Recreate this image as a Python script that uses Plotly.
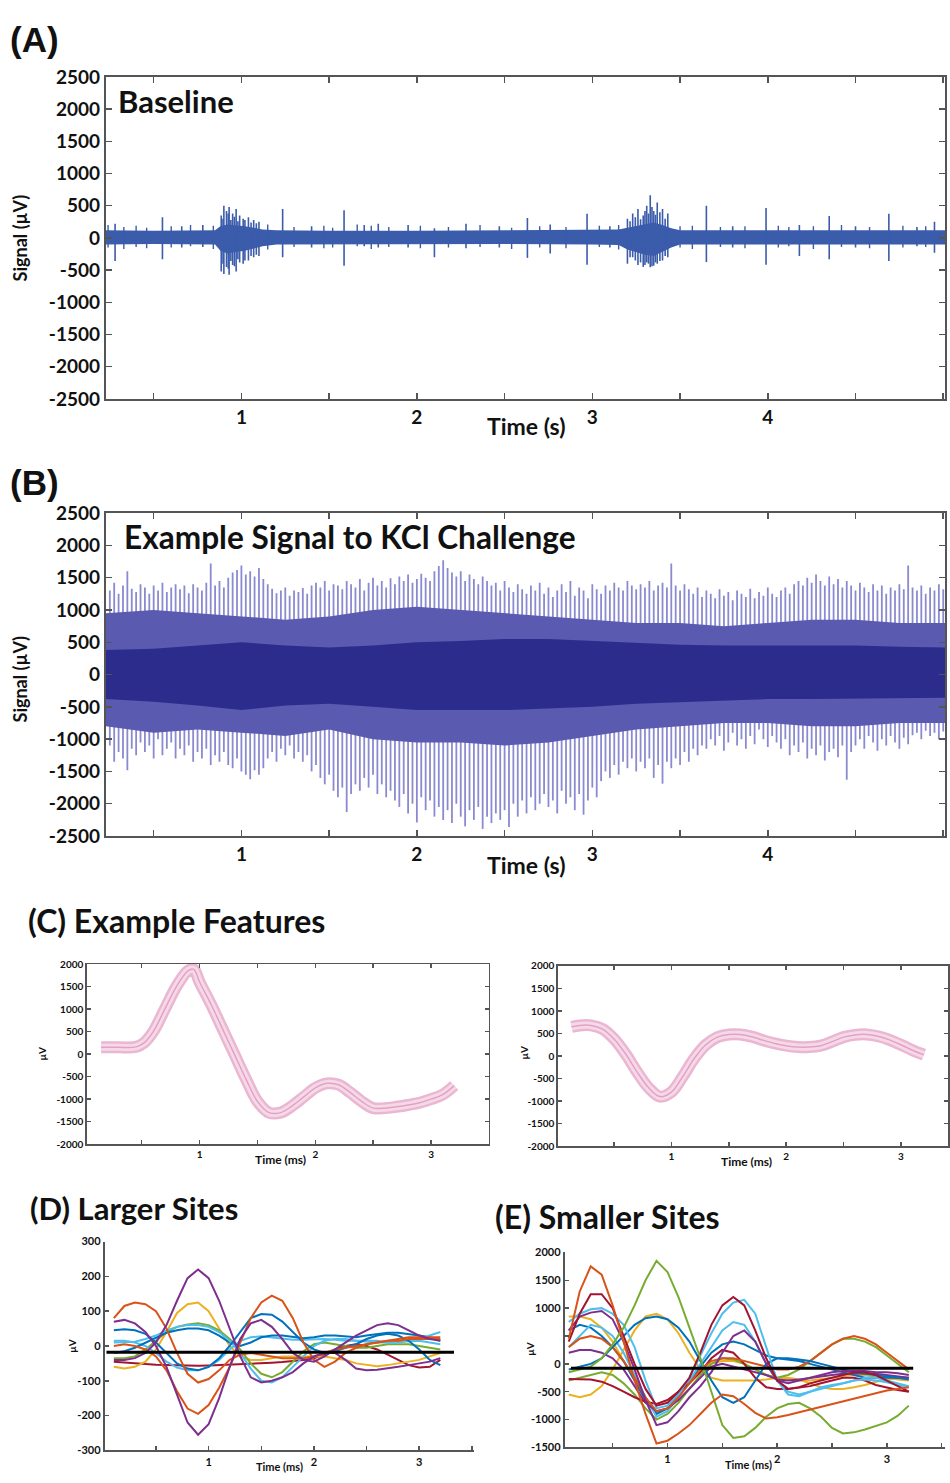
import numpy as np
import plotly.graph_objects as go

W, H = 950, 1483

# ---------------- Panel A : baseline recording (µV) ----------------
a_env_t  = [0.227, 0.5, 0.85, 0.88, 0.92, 0.97, 1.02, 1.07, 1.12, 1.2, 1.5, 2.0, 2.5, 3.0, 3.15, 3.2, 3.25, 3.3, 3.35, 3.4, 3.45, 3.5, 4.0, 4.5, 5.01]
a_env_hi = [120, 110, 120, 180, 210, 200, 180, 160, 130, 120, 110, 110, 115, 120, 130, 160, 190, 220, 240, 200, 150, 120, 115, 120, 120]
a_env_lo = [-100, -95, -100, -200, -240, -220, -200, -170, -130, -100, -95, -95, -95, -100, -110, -180, -220, -260, -280, -220, -150, -100, -95, -100, -100]
a_spk_t  = [0.28, 0.55, 0.66, 0.78, 0.885, 0.90, 0.915, 0.93, 0.95, 0.97, 0.99, 1.01, 1.04, 1.07, 1.10, 1.235, 1.40, 1.585, 1.70, 1.78,
            1.95, 2.10, 2.28, 2.47, 2.63, 2.76, 2.97, 3.10, 3.20, 3.23, 3.26, 3.29, 3.31, 3.33, 3.35, 3.37, 3.40, 3.43,
            3.65, 3.80, 3.99, 4.18, 4.35, 4.50, 4.69, 4.85, 4.95,
            0.895, 0.925, 0.94, 0.96, 0.98, 1.02, 1.055, 1.085, 3.215, 3.245, 3.275, 3.30, 3.32, 3.34, 3.36, 3.385, 3.415]
a_spk_hi = [220, 320, 180, 200, 350, 500, 420, 480, 380, 450, 350, 300, 320, 280, 250, 450, 180, 430, 200, 220,
            200, 150, 220, 180, 310, 210, 375, 180, 300, 380, 450, 350, 500, 665, 420, 550, 450, 380,
            500, 180, 465, 200, 340, 180, 375, 170, 250,
            300, 380, 280, 330, 260, 280, 240, 230, 260, 320, 290, 420, 380, 480, 360, 400, 300]
a_spk_lo = [-360, -330, -150, -140, -520, -560, -450, -570, -420, -520, -380, -400, -350, -300, -280, -300, -150, -430, -130, -150,
            -150, -300, -160, -150, -310, -240, -415, -150, -400, -300, -420, -450, -380, -455, -430, -400, -350, -300,
            -375, -150, -415, -280, -330, -150, -360, -130, -230,
            -400, -480, -360, -440, -330, -350, -280, -260, -300, -350, -380, -420, -400, -440, -380, -360, -280]
# small spikes riding on the noise floor
a_small_t  = [0.24, 0.33, 0.40, 0.46, 0.60, 0.71, 0.84, 1.15, 1.30, 1.47, 1.52, 1.66, 1.74, 1.84, 2.02, 2.18, 2.36, 2.54,
              2.70, 2.85, 3.04, 3.15, 3.50, 3.57, 3.73, 3.87, 4.06, 4.12, 4.26, 4.42, 4.58, 4.77, 4.90]
a_small_hi = [200, 170, 190, 160, 180, 200, 190, 210, 170, 190, 160, 210, 190, 170, 190, 170, 200, 160,
              180, 170, 190, 200, 180, 190, 170, 180, 190, 170, 180, 200, 170, 190, 180]
a_small_lo = [-150, -170, -140, -160, -150, -130, -170, -180, -140, -160, -150, -130, -170, -140, -160, -150, -140, -170,
              -150, -160, -140, -180, -150, -170, -140, -160, -150, -130, -170, -140, -160, -150, -140]

# ---------------- Panel B : KCl challenge (µV) ----------------
b_start, b_step = 0.25, 0.025
b_top = [1300, 1420, 1250, 1380, 1600, 1330, 1280, 1400,
         1350, 1250, 1380, 1300, 1420, 1280, 1350, 1400,
         1320, 1380, 1260, 1400, 1350, 1300, 1420, 1720,
         1380, 1450, 1350, 1500, 1580, 1620, 1690, 1550,
         1600, 1520, 1650, 1480, 1400, 1330, 1260, 1300,
         1350, 1220, 1300, 1280, 1340, 1250, 1380, 1420,
         1350, 1450, 1300, 1400, 1380, 1320, 1450, 1400,
         1350, 1480, 1300, 1420, 1500, 1380, 1450, 1350,
         1490, 1400, 1520, 1450, 1550, 1420, 1480, 1560,
         1500, 1450, 1600, 1680, 1770, 1650, 1580, 1520,
         1600, 1450, 1550, 1480, 1400, 1520, 1450, 1380,
         1420, 1300, 1450, 1350, 1280, 1400, 1320, 1250,
         1380, 1300, 1420, 1250, 1350, 1200, 1300, 1400,
         1280, 1450, 1220, 1350, 1300, 1180, 1400, 1320,
         1250, 1380, 1300, 1420, 1350, 1300, 1450, 1380,
         1320, 1400, 1350, 1450, 1300, 1380, 1420, 1350,
         1720, 1380, 1300, 1400, 1320, 1250, 1350, 1200,
         1300, 1250, 1180, 1320, 1220, 1280, 1150, 1300,
         1250, 1200, 1330, 1180, 1280, 1220, 1350, 1250,
         1200, 1300, 1350, 1250, 1400, 1450, 1380, 1500,
         1420, 1550, 1450, 1380, 1520, 1400, 1480, 1350,
         1450, 1380, 1300, 1420, 1350, 1280, 1400, 1300,
         1380, 1250, 1350, 1300, 1400, 1320, 1690, 1350,
         1300, 1380, 1250, 1350, 1300, 1400, 1320]
b_bot = [-1100, -1350, -1200, -1300, -1480, -1150, -1250, -1050,
         -1200, -1100, -1300, -1000, -1250, -1150, -1050, -1300,
         -1150, -1250, -1100, -1350, -1200, -1300, -1150, -1400,
         -1250, -1350, -1200, -1400, -1450, -1300, -1500, -1550,
         -1620, -1480, -1550, -1450, -1300, -1200, -1350, -1150,
         -1250, -1100, -1300, -1200, -1350, -1250, -1500, -1400,
         -1600, -1700, -1550, -1800, -1900, -1750, -2130, -1850,
         -1700, -1800, -1600, -1750, -1550, -1850, -1700, -1900,
         -1800, -1950, -2050, -1850, -2150, -2000, -2290, -1900,
         -2100, -1950, -2200, -2050, -2250, -2100, -2300, -2000,
         -2200, -2350, -2100, -2250, -2050, -2390, -2200, -2300,
         -2150, -2250, -2100, -2360, -2000, -2200, -1950, -2150,
         -1900, -2100, -2000, -1850, -2050, -1950, -2150, -1800,
         -2000, -1900, -2100, -1850, -2170, -1950, -1750, -1900,
         -1650, -1500, -1600, -1400, -1550, -1350, -1450, -1300,
         -1500, -1350, -1450, -1300, -1600, -1400, -1690, -1350,
         -1450, -1300, -1400, -1200, -1350, -1150, -1250, -1100,
         -1150, -1000, -1100, -950, -1180, -1050, -900, -1100,
         -1000, -1150, -950, -1080, -850, -1000, -1120, -950,
         -1050, -1150, -1000, -1250, -1100, -1200, -1050, -1300,
         -1150, -1250, -1100, -1330, -1200, -1150, -1280, -1100,
         -1630, -1200, -1100, -1000, -1150, -950, -1050, -1180,
         -1000, -1100, -950, -1050, -1150, -980, -1080, -940,
         -900, -1000, -870, -950, -900, -1000, -880]
b_env_t  = [0.227, 0.5, 0.75, 1.0, 1.25, 1.5, 1.75, 2.0, 2.25, 2.5, 2.75, 3.0, 3.25, 3.5, 3.75, 4.0, 4.25, 4.5, 4.75, 5.01]
b_mid_hi = [950, 1000, 950, 900, 850, 900, 1000, 1050, 1000, 950, 900, 850, 800, 800, 750, 800, 850, 850, 800, 800]
b_mid_lo = [-800, -900, -850, -900, -950, -850, -1000, -1050, -1050, -1100, -1050, -950, -850, -800, -750, -750, -800, -800, -750, -750]
b_core_hi = [380, 400, 450, 500, 450, 420, 450, 500, 520, 550, 550, 520, 480, 460, 450, 450, 460, 450, 430, 420]
b_core_lo = [-380, -420, -480, -550, -480, -450, -500, -550, -550, -550, -520, -500, -450, -420, -400, -380, -380, -380, -370, -360]

# ---------------- Panel C : example features (µV vs ms) ----------------
c1_t = [0.15, 0.3, 0.45, 0.52, 0.6, 0.7, 0.8, 0.9, 0.95, 1.0, 1.1, 1.2, 1.3, 1.4, 1.5, 1.6, 1.7, 1.8, 1.9, 2.0,
        2.1, 2.2, 2.3, 2.4, 2.5, 2.6, 2.7, 2.8, 2.9, 3.0, 3.1, 3.2]
c1_v = [150, 150, 160, 250, 500, 1000, 1500, 1850, 1880, 1600, 1100, 550, 0, -550, -1050, -1300, -1300, -1150, -950, -750,
        -650, -680, -850, -1050, -1200, -1200, -1170, -1130, -1080, -1000, -900, -700]
c2_t = [0.13, 0.2, 0.3, 0.4, 0.5, 0.6, 0.7, 0.8, 0.9, 1.0, 1.1, 1.2, 1.3, 1.4, 1.5, 1.6, 1.7, 1.8, 1.9, 2.0,
        2.1, 2.2, 2.3, 2.4, 2.5, 2.6, 2.7, 2.8, 2.9, 3.0, 3.1, 3.2]
c2_v = [650, 680, 680, 600, 380, 50, -350, -700, -900, -800, -450, -50, 250, 420, 480, 480, 430, 350, 280, 230,
        200, 200, 230, 320, 420, 470, 480, 440, 360, 250, 130, 30]

# ---------------- Panels D / E : waveforms, sampled every 0.1 ms ----------------
w_t = [round(0.1 * k, 1) for k in range(1, 33)]

d_purple_a = [70, 75, 65, 40, 0, -60, -140, -220, -255, -225, -150, -60, 20, 65, 75, 55,
              20, -20, -40, -45, -30, -10, 10, 30, 45, 60, 65, 60, 45, 30, 20, 15]
d_purple_b = [-40, -40, -35, -20, 10, 60, 130, 195, 220, 195, 130, 50, -30, -90, -105, -100,
              -90, -75, -50, -30, -20, -20, -40, -65, -70, -68, -65, -60, -55, -50, -45, -35]
d_orange_a = [80, 115, 125, 120, 100, 50, -20, -80, -105, -95, -70, -40, -25, -20, -25, -30,
              -35, -35, -35, -30, -20, -10, -5, 0, 5, 10, 15, 20, 25, 25, 25, 25]
d_orange_b = [0, 5, 0, -10, -30, -70, -130, -180, -195, -170, -120, -60, 10, 80, 125, 145,
              130, 80, 10, -40, -60, -45, -20, -5, 5, 10, 15, 15, 20, 20, 20, 20]
d_yellow = [-60, -65, -60, -45, -10, 40, 95, 120, 125, 100, 50, 0, -30, -40, -40, -35,
            -30, -30, -30, -30, -30, -35, -40, -50, -55, -58, -55, -50, -45, -40, -30, -20]
d_green = [-35, -35, -30, -10, 15, 40, 55, 62, 65, 60, 45, 20, -10, -50, -80, -90,
           -75, -45, -15, 5, 10, 5, 0, -5, -5, 0, 5, 5, 5, 0, -5, -10]
d_lightblue_a = [10, 10, 12, 20, 30, 45, 55, 60, 60, 55, 40, 15, -20, -65, -100, -105,
                 -90, -60, -30, 0, 15, 20, 20, 15, 15, 15, 10, 10, 15, 20, 30, 40]
d_blue_a = [45, 48, 45, 35, 10, -20, -50, -65, -70, -60, -35, 0, 40, 80, 92, 90,
            70, 40, 10, -10, -20, -15, -5, 5, 20, 30, 35, 30, 15, -10, -40, -55]
d_blue_b = [-20, -15, -5, 10, 25, 38, 45, 50, 50, 45, 30, 10, 0, 10, 25, 30,
            30, 25, 22, 25, 30, 30, 28, 25, 30, 35, 38, 38, 35, 30, 25, 15]
d_lightblue_b = [15, 15, 10, 0, -20, -45, -62, -70, -70, -60, -40, -10, 15, 25, 28, 25,
                 20, 18, 18, 20, 20, 18, 15, 15, 12, 10, 10, 12, 15, 15, 10, 5]
d_red = [-45, -48, -50, -52, -54, -55, -56, -57, -57, -56, -55, -54, -53, -52, -50, -48,
         -46, -44, -40, -35, -25, -10, 0, 5, 0, -10, -25, -40, -55, -62, -60, -40]
d_mean_t = [0.03, 3.33]
d_mean_v = [-18, -18]

e_orange_a = [450, 1300, 1750, 1600, 1050, 400, -300, -900, -1430, -1380, -1250, -1100, -900, -700, -550, -580,
              -720, -880, -980, -960, -920, -870, -820, -770, -720, -670, -620, -570, -520, -480, -450, -420]
e_green_a = [-150, -100, -50, 100, 350, 650, 1050, 1500, 1850, 1650, 1200, 650, 100, -500, -1100, -1330,
             -1300, -1150, -950, -800, -720, -700, -800, -950, -1150, -1250, -1230, -1180, -1120, -1050, -930, -750]
e_darkred_a = [400, 900, 1250, 1250, 1000, 500, 0, -450, -750, -700, -500, -250, 200, 700, 1050, 1200,
               1050, 600, 100, -300, -450, -420, -350, -300, -250, -200, -150, -150, -200, -300, -400, -500]
e_lightblue_a = [750, 900, 980, 1000, 900, 700, 300, -300, -800, -750, -550, -250, 150, 550, 900, 1100,
                 1150, 900, 300, -300, -550, -580, -500, -420, -380, -350, -300, -280, -300, -330, -380, -420]
e_blue_a = [-100, -50, 0, 100, 300, 500, 700, 820, 850, 800, 650, 400, 50, -300, -600, -700,
            -600, -300, 0, 100, 100, 80, 50, 0, -50, -100, -150, -180, -200, -220, -250, -280]
e_yellow_a = [-550, -600, -550, -400, -100, 250, 600, 850, 900, 800, 550, 200, -100, -250, -300, -300,
              -300, -300, -280, -250, -250, -280, -350, -420, -450, -450, -420, -380, -320, -280, -250, -250]
e_yellow_b = [850, 850, 800, 650, 400, 50, -300, -650, -880, -800, -550, -300, -100, 0, 50, 50,
              0, -100, -200, -250, -280, -300, -300, -280, -250, -220, -200, -200, -220, -250, -280, -300]
e_purple_a = [600, 850, 920, 950, 800, 400, -100, -650, -1100, -1050, -850, -600, -400, -150, 200, 500,
              600, 400, 0, -300, -350, -300, -250, -200, -150, -130, -130, -130, -150, -150, -170, -200]
e_purple_b = [200, 250, 250, 200, 100, -100, -400, -700, -850, -800, -650, -450, -250, -50, 0, -50,
              -100, -150, -200, -280, -300, -280, -250, -220, -200, -180, -170, -170, -180, -200, -220, -250]
e_darkred_b = [-270, -270, -280, -320, -400, -500, -600, -680, -720, -650, -500, -350, -150, 100, 250, 200,
               0, -250, -420, -450, -450, -430, -400, -350, -300, -250, -250, -300, -380, -430, -470, -500]
e_orange_b = [300, 450, 500, 450, 300, 50, -250, -600, -850, -800, -600, -350, -100, 50, 100, 100,
              50, 0, -50, -100, -100, -50, 50, 200, 350, 450, 500, 450, 350, 200, 50, -100]
e_green_b = [-300, -250, -200, -150, -200, -350, -550, -800, -1000, -900, -700, -450, -200, 0, 100, 80,
             0, -100, -200, -250, -200, -100, 50, 200, 350, 450, 450, 400, 300, 150, 0, -150]
e_lightblue_b = [300, 500, 700, 650, 500, 200, -200, -600, -950, -850, -600, -300, 0, 300, 600, 750,
                 700, 400, 0, -300, -500, -550, -500, -450, -400, -350, -300, -250, -250, -300, -350, -400]
e_blue_b = [600, 700, 650, 500, 300, 50, -300, -650, -900, -800, -550, -300, -50, 200, 350, 400,
            350, 250, 150, 100, 80, 50, 0, -50, -100, -150, -200, -250, -250, -250, -250, -250]
e_mean_t = [0.12, 3.24]
e_mean_v = [-80, -80]

# MATLAB-like palette
BLUE, ORANGE, YELLOW, PURPLE = "#0072BD", "#D95319", "#EDB120", "#7E2F8E"
GREEN, LBLUE, DRED = "#77AC30", "#4DBEEE", "#A2142F"

fig = go.Figure()


def band(t, hi, lo, color, ax):
    fig.add_trace(go.Scatter(x=list(t) + list(t)[::-1], y=list(hi) + list(lo)[::-1],
                             fill="toself", fillcolor=color, line=dict(width=0, color=color),
                             mode="lines", hoverinfo="skip", showlegend=False, xaxis=ax[0], yaxis=ax[1]))


def spikes(t, hi, lo, color, width, ax):
    xs, ys = [], []
    for ti, h, l in zip(t, hi, lo):
        xs += [ti, ti, None]
        ys += [l, h, None]
    fig.add_trace(go.Scatter(x=xs, y=ys, mode="lines", line=dict(color=color, width=width),
                             hoverinfo="skip", showlegend=False, xaxis=ax[0], yaxis=ax[1]))


# Panel A
A_COL = "#3b5cab"
band(a_env_t, a_env_hi, a_env_lo, A_COL, ("x", "y"))
spikes(a_small_t, a_small_hi, a_small_lo, A_COL, 1.4, ("x", "y"))
spikes(a_spk_t, a_spk_hi, a_spk_lo, A_COL, 1.6, ("x", "y"))

# Panel B
b_t = [b_start + b_step * k for k in range(len(b_top))]
spikes(b_t, b_top, b_bot, "#8a8ad0", 1.8, ("x2", "y2"))
band(b_env_t, b_mid_hi, b_mid_lo, "#5a5ab0", ("x2", "y2"))
band(b_env_t, b_core_hi, b_core_lo, "#2c2c8c", ("x2", "y2"))

# Panel C
for (t, v, ax) in [(c1_t, c1_v, ("x3", "y3")), (c2_t, c2_v, ("x4", "y4"))]:
    fig.add_trace(go.Scatter(x=t, y=v, mode="lines", line=dict(color="#ebb6d2", width=12, shape="spline"),
                             hoverinfo="skip", showlegend=False, xaxis=ax[0], yaxis=ax[1]))
    fig.add_trace(go.Scatter(x=t, y=v, mode="lines", line=dict(color="#f6d9e8", width=7, shape="spline"),
                             hoverinfo="skip", showlegend=False, xaxis=ax[0], yaxis=ax[1]))
    fig.add_trace(go.Scatter(x=t, y=v, mode="lines", line=dict(color="#e2a2c4", width=1.5, shape="spline"),
                             hoverinfo="skip", showlegend=False, xaxis=ax[0], yaxis=ax[1]))

# Panel D
d_lines = [(d_red, DRED), (d_yellow, YELLOW), (d_green, GREEN), (d_lightblue_b, LBLUE), (d_blue_b, BLUE),
           (d_lightblue_a, LBLUE), (d_blue_a, BLUE), (d_orange_a, ORANGE), (d_orange_b, ORANGE),
           (d_purple_a, PURPLE), (d_purple_b, PURPLE)]
for v, c in d_lines:
    fig.add_trace(go.Scatter(x=w_t, y=v, mode="lines", line=dict(color=c, width=2),
                             hoverinfo="skip", showlegend=False, xaxis="x5", yaxis="y5"))
fig.add_trace(go.Scatter(x=d_mean_t, y=d_mean_v, mode="lines", line=dict(color="black", width=3),
                         hoverinfo="skip", showlegend=False, xaxis="x5", yaxis="y5"))

# Panel E
e_lines = [(e_yellow_a, YELLOW), (e_yellow_b, YELLOW), (e_green_b, GREEN), (e_blue_b, BLUE),
           (e_lightblue_b, LBLUE), (e_purple_b, PURPLE), (e_darkred_b, DRED), (e_orange_b, ORANGE),
           (e_blue_a, BLUE), (e_lightblue_a, LBLUE), (e_purple_a, PURPLE), (e_darkred_a, DRED),
           (e_green_a, GREEN), (e_orange_a, ORANGE)]
for v, c in e_lines:
    fig.add_trace(go.Scatter(x=w_t, y=v, mode="lines", line=dict(color=c, width=2),
                             hoverinfo="skip", showlegend=False, xaxis="x6", yaxis="y6"))
fig.add_trace(go.Scatter(x=e_mean_t, y=e_mean_v, mode="lines", line=dict(color="black", width=3),
                         hoverinfo="skip", showlegend=False, xaxis="x6", yaxis="y6"))


def dom_x(a, b):
    return [a / W, b / W]


def dom_y(top, bottom):
    return [1 - bottom / H, 1 - top / H]


AX = "#555555"
FONT = "Lato"


def box_axis(size, lw=2, tl=6, mirror="ticks"):
    return dict(showline=True, linecolor=AX, linewidth=lw, mirror=mirror, ticks="inside", ticklen=tl,
                tickcolor=AX, tickwidth=1.5, showgrid=False, zeroline=False,
                tickfont=dict(family=FONT, size=size, color="#111", weight="bold"))


def labels(vals):
    return [str(v) for v in vals]


sec_vals = [0.5, 1, 1.5, 2, 2.5, 3, 3.5, 4, 4.5, 5]
sec_text = ["", "1", "", "2", "", "3", "", "4", "", ""]
big_y = list(range(-2500, 2501, 500))
c_y = list(range(-2000, 2001, 500))
d_y = list(range(-300, 301, 100))
e_y = [-1500, -1000, -500, 0, 500, 1000, 1500, 2000]
e_y_text = ["-1500", "-1000", "-500", "0", "", "1000", "1500", "2000"]
ms_vals = [0.5, 1, 1.5, 2, 2.5, 3, 3.5]
ms_text = ["", "1", "", "2", "", "3", ""]

layout = dict(
    width=W, height=H, margin=dict(l=0, r=0, t=0, b=0),
    paper_bgcolor="white", plot_bgcolor="white", showlegend=False,
    xaxis=dict(box_axis(19), domain=dom_x(106, 947), range=[0.227, 5.01], tickvals=sec_vals, ticktext=sec_text, anchor="y"),
    yaxis=dict(box_axis(19), domain=dom_y(66, 393), range=[-2500, 2500], tickvals=big_y, ticktext=labels(big_y), anchor="x"),
    xaxis2=dict(box_axis(19), domain=dom_x(106, 947), range=[0.227, 5.01], tickvals=sec_vals, ticktext=sec_text, anchor="y2"),
    yaxis2=dict(box_axis(19), domain=dom_y(509, 837), range=[-2500, 2500], tickvals=big_y, ticktext=labels(big_y), anchor="x2"),
    xaxis3=dict(box_axis(10, lw=1.5, tl=4), domain=dom_x(87, 490), range=[0.026, 3.5], tickvals=ms_vals, ticktext=ms_text, anchor="y3"),
    yaxis3=dict(box_axis(10, lw=1.5, tl=4), domain=dom_y(967, 1150), range=[-2000, 2000], tickvals=c_y, ticktext=labels(c_y), anchor="x3"),
    xaxis4=dict(box_axis(10, lw=1.5, tl=4), domain=dom_x(559, 950), range=[0.01, 3.41], tickvals=ms_vals, ticktext=ms_text, anchor="y4"),
    yaxis4=dict(box_axis(10, lw=1.5, tl=4), domain=dom_y(969, 1152), range=[-2000, 2000], tickvals=c_y, ticktext=labels(c_y), anchor="x4"),
    xaxis5=dict(box_axis(11, lw=2, tl=4, mirror=False), domain=dom_x(105, 475), range=[0.014, 3.52], tickvals=ms_vals, ticktext=ms_text, anchor="y5"),
    yaxis5=dict(box_axis(11, lw=2, tl=4, mirror=False), domain=dom_y(1249, 1461), range=[-300, 300], tickvals=d_y, ticktext=labels(d_y), anchor="x5"),
    xaxis6=dict(box_axis(11, lw=2, tl=4, mirror=False), domain=dom_x(566, 947), range=[0.064, 3.53], tickvals=ms_vals, ticktext=ms_text, anchor="y6"),
    yaxis6=dict(box_axis(11, lw=2, tl=4, mirror=False), domain=dom_y(1260, 1458), range=[-1500, 2000],
                tickvals=e_y, ticktext=e_y_text, anchor="x6"),
)
fig.update_layout(**layout)


def ann(text, px, py, size, family=FONT, xanchor="left", yanchor="middle", angle=0):
    return dict(text=text, x=px / W, y=1 - py / H, xref="paper", yref="paper", showarrow=False,
                xanchor=xanchor, yanchor=yanchor, textangle=angle,
                font=dict(family=family, size=size, color="#111", weight="bold"))


anns = [
    ann("(A)", 8, 28, 35, family="Liberation Sans"),
    ann("(B)", 8, 478, 35, family="Liberation Sans"),
    ann("(C) Example Features", 26, 923, 32),
    ann("(D) Larger Sites", 28, 1215, 31),
    ann("(E) Smaller Sites", 494, 1223, 32),
    ann("Baseline", 116, 90, 31),
    ann("Example Signal to KCl Challenge", 122, 533, 31.6),
    ann("Time (s)", 528, 421, 23, xanchor="center"),
    ann("Time (s)", 528, 866, 23, xanchor="center"),
    ann("Signal (µV)", 20, 229, 18, xanchor="center", angle=-90),
    ann("Signal (µV)", 20, 677, 18, xanchor="center", angle=-90),
    ann("Time (ms)", 281, 1166, 12, xanchor="center"),
    ann("Time (ms)", 748, 1168, 12, xanchor="center"),
    ann("µV", 42, 1058, 10, xanchor="center", angle=-90),
    ann("µV", 525, 1057, 10, xanchor="center", angle=-90),
    ann("Time (ms)", 280, 1477, 11, xanchor="center"),
    ann("µV", 72, 1355, 10, xanchor="center", angle=-90),
    ann("Time (ms)", 750, 1475, 11, xanchor="center"),
    ann("µV", 531, 1358, 10, xanchor="center", angle=-90),
]
fig.update_layout(annotations=anns)

fig.write_html(
    "out.html",
    config={"displayModeBar": False, "staticPlot": True},
    post_script=(
        "var gd=document.getElementById('{plot_id}');"
        "gd.style.position='fixed';gd.style.top='0px';gd.style.left='0px';"
        "document.body.style.margin='0px';document.body.style.padding='0px';"
        "document.documentElement.style.overflow='hidden';"
    ),
)
